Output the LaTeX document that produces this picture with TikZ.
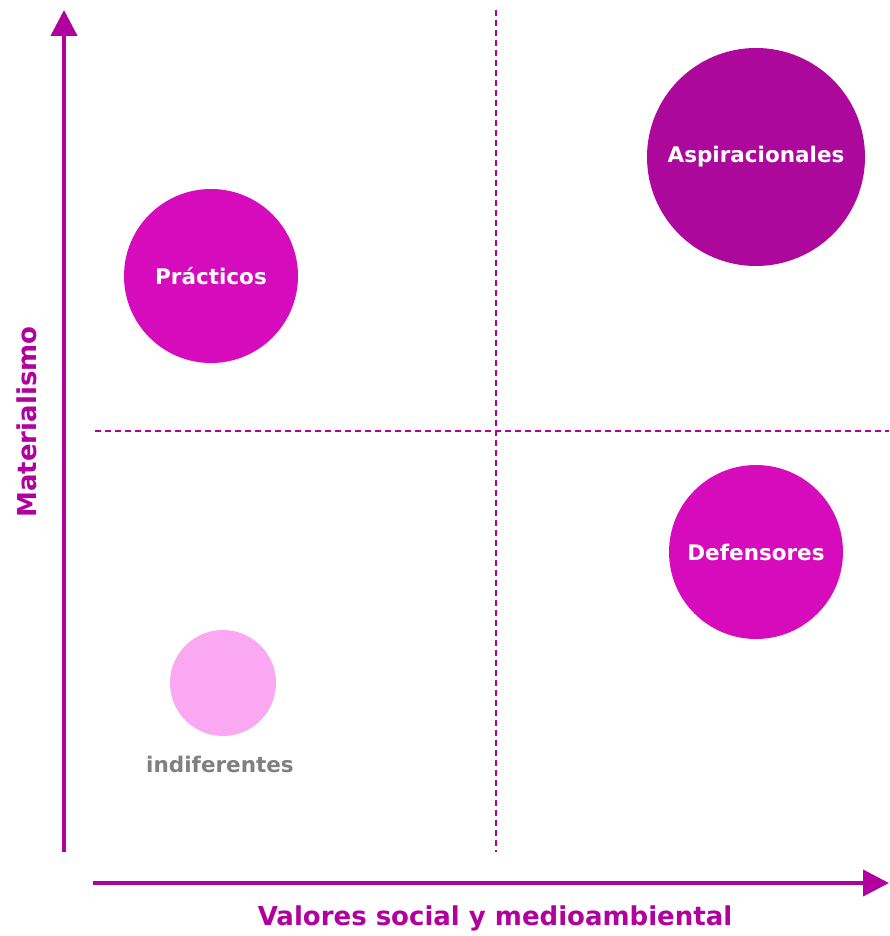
\documentclass[tikz,border=0pt]{standalone}
\usepackage{fontspec}
\setmainfont{DejaVu Sans}
\usetikzlibrary{arrows.meta, positioning}
\definecolor{axiscol}{HTML}{B0009E}
\definecolor{darkseg}{HTML}{AD089C}
\definecolor{midseg}{HTML}{D60BBB}
\definecolor{lightseg}{HTML}{FBA8F2}
\definecolor{labelgray}{HTML}{808080}
\tikzset{
x=1pt, y=-1pt,
>={Triangle[length=26pt,width=26pt]},
axis/.style={draw=axiscol, line width=4pt, ->, color=axiscol},
divider/.style={draw=axiscol, line width=1.6pt, dash pattern=on 6pt off 4pt},
segment/.style={circle, inner sep=0pt, text=white, font=\fontsize{21.5}{26}\selectfont\bfseries},
axislabel/.style={text=axiscol, font=\fontsize{26}{30}\selectfont\bfseries},
}

\begin{document}
\begin{tikzpicture}
            \useasboundingbox (0,0) rectangle (889,936);

            % Axes
            \coordinate (ybot) at (64,852);
            \coordinate (ytop) at (64,10);
            \coordinate (xleft) at (93,883);
            \coordinate (xright) at (889,883);
            \draw[axis] (ybot) -- (ytop);
            \draw[axis] (xleft) -- (xright);

            % Quadrant dividers
            \coordinate (vtop) at (496,10);
            \coordinate (vbot) at (496,852);
            \coordinate (hleft) at (95,431);
            \coordinate (hright) at (889,431);
            \draw[divider] (vtop) -- (vbot);
            \draw[divider] (hleft) -- (hright);

            % Segments
            \node[segment, fill=darkseg, minimum size=218pt] (asp) at (756,157) {Aspiracionales};
            \node[segment, fill=midseg, minimum size=174pt] (prac) at (211,276) {Prácticos};
            \node[segment, fill=midseg, minimum size=174pt] (def) at (756,552) {Defensores};
            \node[segment, fill=lightseg, minimum size=106pt] (indif) at (223,683) {};
            \node[segment, text=labelgray] (indiflabel) at (220,764) {indiferentes};

            % Axis labels
            \node[axislabel, rotate=90] (ylabel) at (27,422) {Materialismo};
            \node[axislabel] (xlabel) at (495,918) {Valores social y medioambiental};
     \end{tikzpicture}
\end{document}
